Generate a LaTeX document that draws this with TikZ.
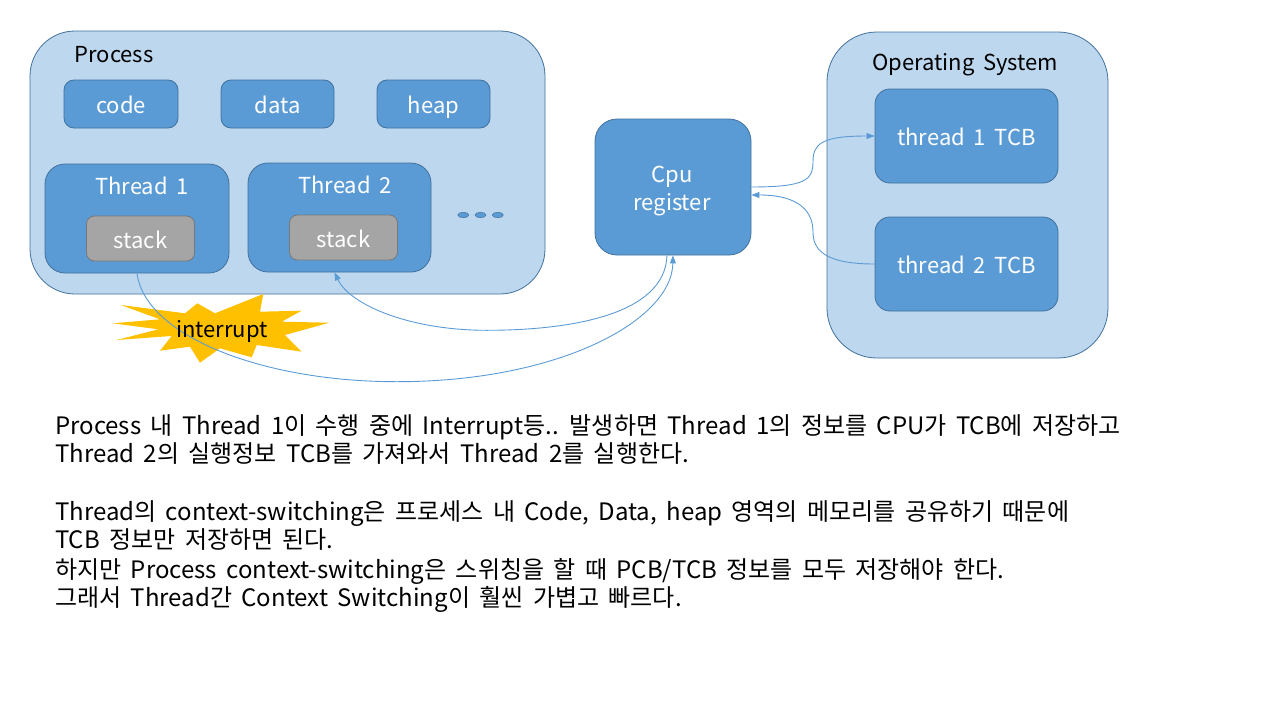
\documentclass[tikz,border=0pt]{standalone}
\usepackage{fontspec}
\setmainfont[WordSpace=1.75]{Noto Sans CJK KR}
\usetikzlibrary{arrows.meta,shapes.geometric}
\definecolor{outerfill}{HTML}{BDD7EE}
\definecolor{boxfill}{HTML}{5B9BD5}
\definecolor{boxline}{HTML}{41719C}
\definecolor{stackfill}{HTML}{A5A5A5}
\definecolor{stackline}{HTML}{787878}
\definecolor{burst}{HTML}{FFC000}
\tikzset{
  container/.style={draw=boxline, fill=outerfill, line width=0.8pt, rounded corners=#1, inner sep=0pt},
  box/.style={draw=boxline, fill=boxfill, line width=0.8pt, text=white, rounded corners=#1,
    font=\fontsize{22}{27}\selectfont, inner sep=0pt, align=center, text height=24pt, text depth=5pt},
  stackbox/.style={draw=stackline, fill=stackfill, line width=0.8pt, text=white, rounded corners=8pt,
    font=\fontsize{22}{27}\selectfont, inner sep=0pt, minimum width=108pt, minimum height=45pt,
    text height=24pt, text depth=5pt},
  lbl/.style={font=\fontsize{22}{27}\selectfont, inner sep=0pt, text height=16pt, text depth=5pt},
  wlbl/.style={lbl, text=white},
  dot/.style={ellipse, draw=boxline, fill=boxfill, line width=0.5pt, minimum width=11pt, minimum height=5.5pt, inner sep=0pt},
  conn/.style={draw=boxfill, line width=0.9pt},
  tip/.style={-{Triangle[length=8pt,width=6pt]}},
  body/.style={anchor=base west, font=\fontsize{24}{28}\selectfont, inner sep=0pt},
}
\begin{document}
\begin{tikzpicture}[x=1pt,y=-1pt]
\useasboundingbox (0,0) rectangle (1280,720);

% Process container
\node[container=45pt, minimum width=515pt, minimum height=263pt] (process) at (287.5,162.5) {};
\node[lbl] (proclbl) at (114,56.5) {Process};
\node[box=10pt, minimum width=114pt, minimum height=48pt] (code) at (121,104) {code};
\node[box=10pt, minimum width=113pt, minimum height=48pt] (data) at (277.5,104) {data};
\node[box=10pt, minimum width=113pt, minimum height=48pt] (heap) at (433.5,104) {heap};

\node[box=20pt, minimum width=184pt, minimum height=109pt] (thread1) at (137,218.5) {};
\node[wlbl] (t1lbl) at (142,188.5) {Thread 1};
\node[stackbox] (stack1) at (140.5,238.5) {stack};

\node[box=20pt, minimum width=183pt, minimum height=109pt] (thread2) at (339.5,217.5) {};
\node[wlbl] (t2lbl) at (345,187.5) {Thread 2};
\node[stackbox] (stack2) at (343.5,237.5) {stack};

\node[dot] (dot1) at (463.3,215) {};
\node[dot] (dot2) at (480.5,215) {};
\node[dot] (dot3) at (497.8,215) {};

% CPU
\node[box=22pt, minimum width=156pt, minimum height=136pt] (cpu) at (673,187) {};
\node[wlbl, align=center, font=\fontsize{22}{28}\selectfont, text height=, text depth=] (cpulbl) at (672,191) {Cpu\\register};

% Operating system
\node[container=50pt, minimum width=281pt, minimum height=326pt] (os) at (967.5,195) {};
\node[lbl] (oslbl) at (965,64.5) {Operating System};
\node[box=15pt, minimum width=183pt, minimum height=94pt] (tcb1) at (966.5,136) {};
\node[wlbl] (tcb1lbl) at (966.5,139.5) {thread 1 TCB};
\node[box=15pt, minimum width=183pt, minimum height=94pt] (tcb2) at (966.5,264) {};
\node[wlbl] (tcb2lbl) at (966.5,267.5) {thread 2 TCB};

% interrupt burst
\fill[burst] (112.7,323.3) -- (160,319.3) -- (120.7,305) -- (185,313.3) -- (197.3,303.3)
  -- (215,313.3) -- (263.3,294) -- (260,311.7) -- (301.7,310.7) -- (281.7,321.7)
  -- (329.3,322.7) -- (285,335) -- (301.7,351.7) -- (256.7,345) -- (251.7,357.3)
  -- (220,348.3) -- (200,362.7) -- (190,346.7) -- (160,350.7) -- (171.7,336)
  -- (116.7,340) -- (158.3,329.3) -- cycle;

% connectors
\coordinate (low1) at (397,381.7);
\coordinate (low2) at (486.7,330.3);
\draw[conn, tip] (thread1.south) .. controls (145,335) and (260,381.7) .. (low1)
  .. controls (560,381.7) and (672,320) .. (cpu.south);
\draw[conn, tip] ([xshift=-6pt]cpu.south) .. controls (665,315) and (570,330.3) .. (low2)
  .. controls (410,330.3) and (350,305) .. ([xshift=-5pt]thread2.south);
\coordinate (mid1) at (813,162);
\coordinate (mid2) at (813,232);
\draw[conn, tip] (cpu.east) .. controls (805,187) and (813,180) .. (mid1)
  .. controls (813,144) and (821,136) .. (tcb1.west);
\draw[conn, tip] (tcb2.west) .. controls (825,264) and (813,250) .. (mid2)
  .. controls (813,212) and (800,195) .. ([yshift=-8pt]cpu.east);

\node[lbl] (intlbl) at (222,332) {interrupt};

% body text
\node[body] (l1) at (55,434) {Process 내 Thread 1이 수행 중에 Interrupt등.. 발생하면 Thread 1의 정보를 CPU가 TCB에 저장하고};
\node[body] (l2) at (55,462) {Thread 2의 실행정보 TCB를 가져와서 Thread 2를 실행한다.};
\node[body] (l3) at (55,520) {Thread의 context-switching은 프로세스 내 Code, Data, heap 영역의 메모리를 공유하기 때문에};
\node[body] (l4) at (55,548) {TCB 정보만 저장하면 된다.};
\node[body] (l5) at (55,578) {하지만 Process context-switching은 스위칭을 할 때 PCB/TCB 정보를 모두 저장해야 한다.};
\node[body] (l6) at (55,606) {그래서 Thread간 Context Switching이 훨씬 가볍고 빠르다.};
\end{tikzpicture}
\end{document}
